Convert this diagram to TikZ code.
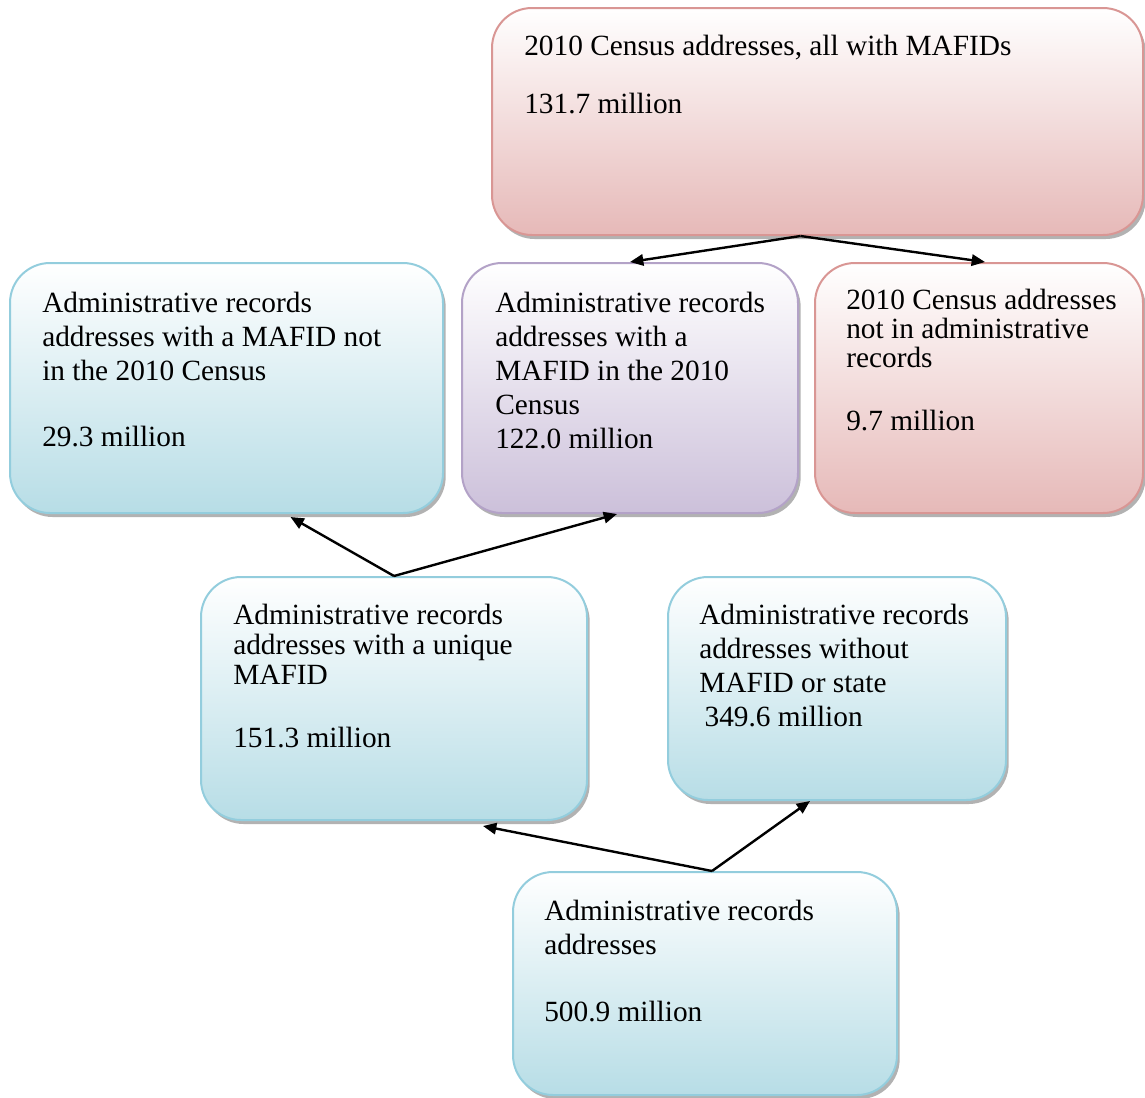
\documentclass[tikz,border=0pt]{standalone}
\usepackage{fontspec}
\setmainfont{Liberation Serif}
\usepackage{tikz}
\usetikzlibrary{calc}
\usetikzlibrary{shadows}
\usetikzlibrary{arrows.meta}
\definecolor{box-blue}{RGB}{183, 221, 230}
\definecolor{edge-blue}{RGB}{147, 205, 221}
\definecolor{box-pink}{RGB}{230, 185, 184}
\definecolor{edge-pink}{RGB}{217, 150, 148}
\definecolor{box-purple}{RGB}{204, 192, 218}
\definecolor{edge-purple}{RGB}{179, 162, 199}
\tikzset{
   addrbox/.style={rounded corners=30pt,line width=1.5pt,inner sep=0pt,
      drop shadow={shadow xshift=2pt,shadow yshift=-3pt,fill=black,opacity=0.3}},
   bluebox/.style={addrbox,draw=edge-blue,top color=white,bottom color=box-blue},
   pinkbox/.style={addrbox,draw=edge-pink,top color=white,bottom color=box-pink},
   purplebox/.style={addrbox,draw=edge-purple,top color=white,bottom color=box-purple},
   boxsize/.style 2 args={minimum width=#1*0.75pt,minimum height=#2*0.75pt},
   boxtext/.style={anchor=north west,inner sep=0pt,align=left,font=\fontsize{22}{25.5}\selectfont},
   flow/.style={line width=1.8pt,-{Triangle[length=10pt,width=8.5pt]}}
}

\begin{document}
\begin{tikzpicture}[x=0.75pt,y=-0.75pt]
   \useasboundingbox (0,0) rectangle (1145,1097);
   \node[pinkbox,boxsize={651}{227}] (census) at (817.5,121.5) {};
   \node[bluebox,boxsize={433}{250}] (notcensus) at (226.5,388) {};
   \node[purplebox,boxsize={336}{250}] (incensus) at (630,388) {};
   \node[pinkbox,boxsize={328}{250}] (onlycensus) at (979,388) {};
   \node[bluebox,boxsize={386}{243}] (unique) at (394,698.5) {};
   \node[bluebox,boxsize={338}{223}] (nomafid) at (837,688.5) {};
   \node[bluebox,boxsize={384}{223}] (records) at (705,983.5) {};
   \draw[flow] ($(census.south)+(-17,0)$) -- (incensus.north);
   \draw[flow] ($(census.south)+(-17,0)$) -- ($(onlycensus.north)+(6,0)$);
   \draw[flow] (unique.north) -- ($(notcensus.south)+(64,3)$);
   \draw[flow] (unique.north) -- ($(incensus.south)+(-13,0)$);
   \draw[flow] ($(records.north)+(7,0)$) -- ($(unique.south)+(89,5)$);
   \draw[flow] ($(records.north)+(7,0)$) -- ($(nomafid.south)+(-27,0)$);
   \node[boxtext] (census-t) at (524,35) {2010 Census addresses, all with MAFIDs\\[18pt]131.7 million};
   \node[boxtext] (notcensus-t) at (42,292) {Administrative records\\addresses with a MAFID not\\in the 2010 Census\\[24pt]29.3 million};
   \node[boxtext] (incensus-t) at (495,292) {Administrative records\\addresses with a\\MAFID in the 2010\\Census\\122.0 million};
   \node[boxtext,font=\fontsize{22}{21.75}\selectfont] (onlycensus-t) at (846,289) {2010 Census addresses\\not in administrative\\records\\[25.5pt]9.7 million};
   \node[boxtext,font=\fontsize{22}{22.5}\selectfont] (unique-t) at (233,604) {Administrative records\\addresses with a unique\\MAFID\\[24.75pt]151.3 million};
   \node[boxtext] (nomafid-t) at (699,604) {Administrative records\\addresses without\\MAFID or state\\\hspace*{4pt}349.6 million};
   \node[boxtext] (records-t) at (544,900) {Administrative records\\addresses\\[24.75pt]500.9 million};
\end{tikzpicture}
\end{document}
